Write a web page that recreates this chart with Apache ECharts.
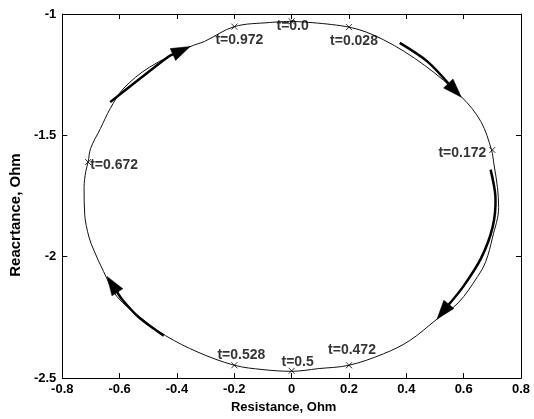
<!DOCTYPE html>
<html><head><meta charset="utf-8">
<script src="https://cdn.jsdelivr.net/npm/echarts@6/dist/echarts.min.js"></script>
<style>html,body{margin:0;padding:0;background:#fff}#c{width:534px;height:419px}</style>
</head><body><div id="c"></div>
<script>
// Axis ticks
const xTicks = [-0.8, -0.6, -0.4, -0.2, 0, 0.2, 0.4, 0.6, 0.8];
const yTicks = [-2.5, -2, -1.5, -1];

// Impedance locus (clockwise from the top)
const curveX = [0, 0.2, 0.32, 0.463, 0.592, 0.66, 0.697, 0.706, 0.718, 0.722, 0.701, 0.677, 0.649, 0.581, 0.507, 0.411, 0.32, 0.2, 0.093, 0, -0.1, -0.2, -0.327, -0.44, -0.52, -0.61, -0.656, -0.69, -0.707, -0.722, -0.724, -0.718, -0.71, -0.701, -0.667, -0.633, -0.588, -0.497, -0.355, -0.304, -0.2, -0.077, 0];
const curveY = [-1.03, -1.054, -1.106, -1.211, -1.341, -1.443, -1.56, -1.622, -1.715, -1.797, -1.919, -2.02, -2.081, -2.19, -2.257, -2.346, -2.4, -2.447, -2.461, -2.472, -2.465, -2.447, -2.393, -2.325, -2.257, -2.163, -2.061, -1.973, -1.919, -1.824, -1.715, -1.648, -1.61, -1.553, -1.472, -1.39, -1.309, -1.22, -1.135, -1.113, -1.052, -1.035, -1.03];

// Marked instants
const markerLabels = ['t=0.0', 't=0.028', 't=0.172', 't=0.472', 't=0.5', 't=0.528', 't=0.672', 't=0.972'];
const markerX = [0, 0.2, 0.7, 0.2, 0, -0.2, -0.71, -0.2];
const markerY = [-1.03, -1.054, -1.56, -2.447, -2.47, -2.447, -1.61, -1.052];

// Direction arrows (last point = arrow tip)
const arrow1X = [-0.633, -0.531, -0.429, -0.354];
const arrow1Y = [-1.363, -1.268, -1.175, -1.134];
const arrow2X = [0.377, 0.473, 0.592];
const arrow2Y = [-1.119, -1.195, -1.343];
const arrow3X = [0.694, 0.711, 0.701, 0.66, 0.599, 0.507];
const arrow3Y = [-1.641, -1.756, -1.878, -2.008, -2.122, -2.257];
const arrow4X = [-0.446, -0.531, -0.592, -0.644];
const arrow4Y = [-2.325, -2.252, -2.175, -2.081];

// ---- styling / layout (not data) ----
const labelOffsets = [[1, 5], [5, 14], [-30, 3], [3, -15], [6, -9], [7, -10], [26, 3], [5, 14]];
const FONT = 'Liberation Sans, Arial, sans-serif';
const arrows = [[arrow1X, arrow1Y], [arrow2X, arrow2Y], [arrow3X, arrow3Y], [arrow4X, arrow4Y]];
const step = (a) => +(a[1] - a[0]).toFixed(6);

const chart = echarts.init(document.getElementById('c'), null, {renderer: 'canvas'});
const axisCommon = {
  axisLine: {show: true, onZero: false, lineStyle: {color: '#000', width: 1}},
  axisTick: {show: true, inside: true, length: 5, lineStyle: {color: '#000'}},
  splitLine: {show: false}
};
const xBase = {type: 'value', min: xTicks[0], max: xTicks[xTicks.length - 1], interval: step(xTicks)};
const yBase = {type: 'value', min: yTicks[0], max: yTicks[yTicks.length - 1], interval: step(yTicks)};

chart.setOption({
  animation: false,
  backgroundColor: '#fff',
  textStyle: {fontFamily: FONT},
  grid: {left: 51, top: 14, right: 13, bottom: 36, containLabel: false},
  xAxis: [
    Object.assign({}, xBase, axisCommon, {
      position: 'bottom',
      name: 'Resistance, Ohm', nameLocation: 'middle', nameGap: 21,
      nameTextStyle: {fontFamily: FONT, fontWeight: 'bold', fontSize: 13, color: '#000', padding: [0, 16, 0, 0]},
      axisLabel: {show: true, margin: 5, fontFamily: FONT, fontWeight: 'bold', fontSize: 13, color: '#000'}
    }),
    Object.assign({}, xBase, axisCommon, {position: 'top', axisLabel: {show: false}})
  ],
  yAxis: [
    Object.assign({}, yBase, axisCommon, {
      position: 'left',
      name: 'Reacrtance, Ohm', nameLocation: 'middle', nameGap: 24,
      nameTextStyle: {fontFamily: FONT, fontWeight: 'bold', fontSize: 15, color: '#000', padding: [0, 38, 0, 0]},
      axisLabel: {show: true, margin: 6, fontFamily: FONT, fontWeight: 'bold', fontSize: 13, color: '#000'}
    }),
    Object.assign({}, yBase, axisCommon, {position: 'right', axisLabel: {show: false}})
  ],
  series: [
    {
      type: 'line', xAxisIndex: 0, yAxisIndex: 0,
      data: curveX.map((x, i) => [x, curveY[i]]),
      showSymbol: false, symbol: 'none', smooth: 0.35,
      lineStyle: {color: '#111', width: 1}, z: 2, silent: true
    },
    {
      type: 'custom', xAxisIndex: 0, yAxisIndex: 0, clip: false, z: 3,
      data: arrows.map((a, i) => [a[0][a[0].length - 1], a[1][a[1].length - 1], i]),
      renderItem: function (params, api) {
        const a = arrows[params.dataIndex];
        const pts = a[0].map((x, i) => api.coord([x, a[1][i]]));
        const tip = pts[pts.length - 1];
        const prev = pts[pts.length - 2];
        let dx = tip[0] - prev[0], dy = tip[1] - prev[1];
        const len = Math.sqrt(dx * dx + dy * dy); dx /= len; dy /= len;
        const L = 19, W = 13;
        const base = [tip[0] - L * dx, tip[1] - L * dy];
        const px = -dy, py = dx;
        const shaft = pts.slice(0, pts.length - 1).concat([[tip[0] - (L - 2) * dx, tip[1] - (L - 2) * dy]]);
        return {
          type: 'group',
          children: [
            {type: 'polyline', shape: {points: shaft, smooth: 0.3}, style: {stroke: '#000', lineWidth: 2.5, fill: null}},
            {type: 'polygon', shape: {points: [tip, [base[0] + px * W / 2, base[1] + py * W / 2], [base[0] - px * W / 2, base[1] - py * W / 2]]},
             style: {fill: '#000', stroke: '#000', lineWidth: 0.5}}
          ]
        };
      }
    },
    {
      type: 'scatter', xAxisIndex: 0, yAxisIndex: 0, z: 4,
      symbol: 'path://M0,0L10,10M10,0L0,10', symbolSize: 6,
      itemStyle: {color: 'rgba(0,0,0,0)', borderColor: '#000', borderWidth: 1},
      data: markerX.map((x, i) => ({
        value: [x, markerY[i]],
        label: {show: true, position: 'inside', offset: labelOffsets[i], formatter: markerLabels[i]}
      })),
      label: {fontFamily: FONT, fontWeight: 'bold', fontSize: 14, color: '#000'}
    }
  ]
});
</script>
</body></html>
